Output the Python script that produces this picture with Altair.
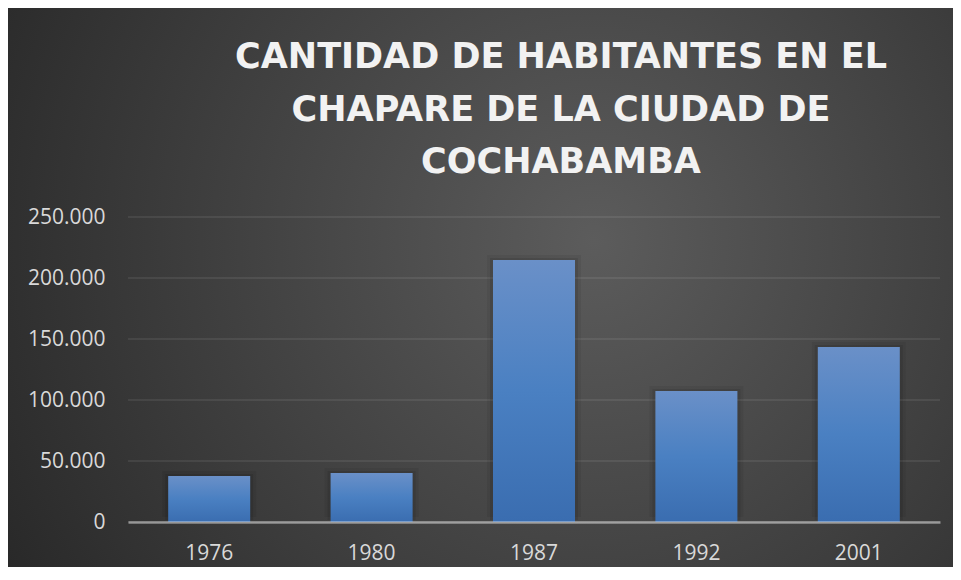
import altair as alt
import pandas as pd

years = ["1976", "1980", "1987", "1992", "2001"]
habitantes = [37700, 40200, 214800, 107400, 143400]
y_ticks = [0, 50000, 100000, 150000, 200000, 250000]
title_lines = ["CANTIDAD DE HABITANTES EN EL", "CHAPARE DE LA CIUDAD DE", "COCHABAMBA"]

df = pd.DataFrame({"year": years, "hab": habitantes})
grid_df = pd.DataFrame({"v": y_ticks})

W, H = 812, 305

x_enc = alt.X(
    "year:N", sort=years,
    scale=alt.Scale(paddingInner=0.495, paddingOuter=0.2475),
    axis=alt.Axis(title=None, labelAngle=0, domain=True, domainColor="white",
                  domainOpacity=0.45, domainWidth=2.5, ticks=False,
                  labelFont="Open Sans", labelFontSize=21, labelColor="#d9d9d9",
                  labelPadding=20, zindex=1),
)
y_axis = alt.Axis(values=y_ticks, format=",.0f", title=None, domain=False, ticks=False,
                  grid=False, labelFont="Open Sans", labelFontSize=21,
                  labelColor="#d9d9d9", labelPadding=23, zindex=1)
y_scale = alt.Scale(domain=[0, 250000])

bg = alt.Chart(pd.DataFrame({"k": [0]})).mark_rect(
    fill=alt.RadialGradient(
        gradient="radial",
        stops=[alt.GradientStop(offset=0, color="#5c5c5c"),
               alt.GradientStop(offset=1, color="#262626")],
        x1=0.62, y1=0.45, r1=0, x2=0.62, y2=0.45, r2=0.75),
).encode(x=alt.value(-120), x2=alt.value(825), y=alt.value(-209), y2=alt.value(350))

title_layers = []
for i, line in enumerate(title_lines):
    src = pd.DataFrame({"t": [line]})
    title_layers.append(
        alt.Chart(src).mark_text(
            font="DejaVu Sans", fontSize=35, fontWeight="bold", color="#f2f2f2",
            align="center", baseline="alphabetic",
        ).encode(text="t:N", x=alt.value(433), y=alt.value(-149 + i * 52.5))
    )

grid = alt.Chart(grid_df).mark_rule(color="white", opacity=0.1, strokeWidth=1.5).encode(
    y=alt.Y("v:Q", scale=y_scale, axis=y_axis)
)

shadow1 = alt.Chart(df).mark_bar(color="black", opacity=0.06, width=94, yOffset=-5).encode(
    x=x_enc, y=alt.Y("hab:Q", scale=y_scale, axis=y_axis)
)
shadow2 = alt.Chart(df).mark_bar(color="black", opacity=0.09, width=88, yOffset=-2).encode(
    x=x_enc, y=alt.Y("hab:Q", scale=y_scale, axis=y_axis)
)

bars = alt.Chart(df).mark_bar(
    color=alt.LinearGradient(
        gradient="linear",
        stops=[alt.GradientStop(offset=0, color="#6a90c8"),
               alt.GradientStop(offset=0.5, color="#4a80c2"),
               alt.GradientStop(offset=1, color="#3a6db0")],
        x1=0, x2=0, y1=0, y2=1),
).encode(x=x_enc, y=alt.Y("hab:Q", scale=y_scale, axis=y_axis))

chart = alt.layer(bg, grid, shadow1, shadow2, bars, *title_layers).properties(
    width=W, height=H, padding=0,
).configure_view(strokeWidth=0).configure(
    locale={"number": {"decimal": ",", "thousands": ".", "grouping": [3],
                       "currency": ["", ""]}}
)

chart.save("out.html", embed_options={"renderer": "svg", "actions": False})
